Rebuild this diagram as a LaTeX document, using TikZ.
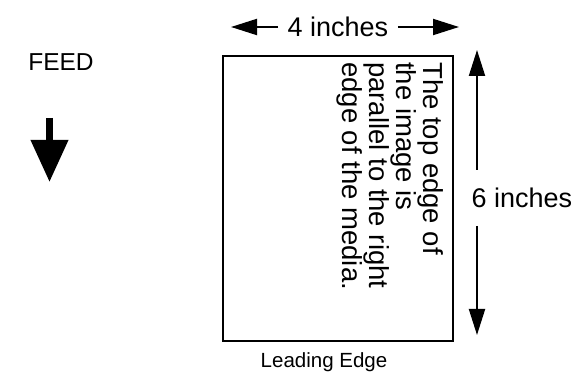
\documentclass[tikz,border=0pt]{standalone}
\usepackage{fontspec}
\setmainfont{Liberation Sans}
\usetikzlibrary{arrows.meta,positioning}

\begin{document}
\begin{tikzpicture}[
  x=1pt, y=-1pt,
  every node/.style={font=\fontsize{27}{29}\selectfont, inner sep=0pt},
  media/.style={rectangle, draw, line width=2pt, minimum width=230pt, minimum height=285pt},
  dimlabel/.style={inner xsep=9.5pt},
  dim/.style={-{Triangle[length=26pt, width=16pt]}, line width=2pt},
  feedarr/.style={-{Triangle[length=42pt, width=36pt]}, line width=7pt}
]
\useasboundingbox (0,0) rectangle (574,377);

% Media sheet
\node[media] (sheet) at (337.5,199) {};
\node[rotate=-90, anchor=north west, align=left, font=\fontsize{27.5}{27}\selectfont] (note) at (444,62)
  {The top edge of\\the image is\\parallel to the right\\edge of the media.};
\node[font=\fontsize{20.5}{24}\selectfont] (lead) at (324,362) {Leading Edge};

% Feed direction
\node[font=\fontsize{24.5}{28}\selectfont] (feed) at (61,62) {FEED};
\coordinate (feed-top) at (49.5,118);
\coordinate (feed-tip) at (49.5,182);
\draw[feedarr] (feed-top) -- (feed-tip);

% Width dimension
\node[dimlabel] (width) at (338,27) {4 inches};
\coordinate (w-left) at (231,27);
\coordinate (w-right) at (459,27);
\draw[dim] (width.west) -- (w-left);
\draw[dim] (width.east) -- (w-right);

% Height dimension
\node (height) at (522,198) {6 inches};
\coordinate (h-top) at (477,50);
\coordinate (h-bot) at (477,335);
\coordinate (h-up) at (477,170);
\coordinate (h-down) at (477,226);
\draw[dim] (h-up) -- (h-top);
\draw[dim] (h-down) -- (h-bot);

\end{tikzpicture}
\end{document}
